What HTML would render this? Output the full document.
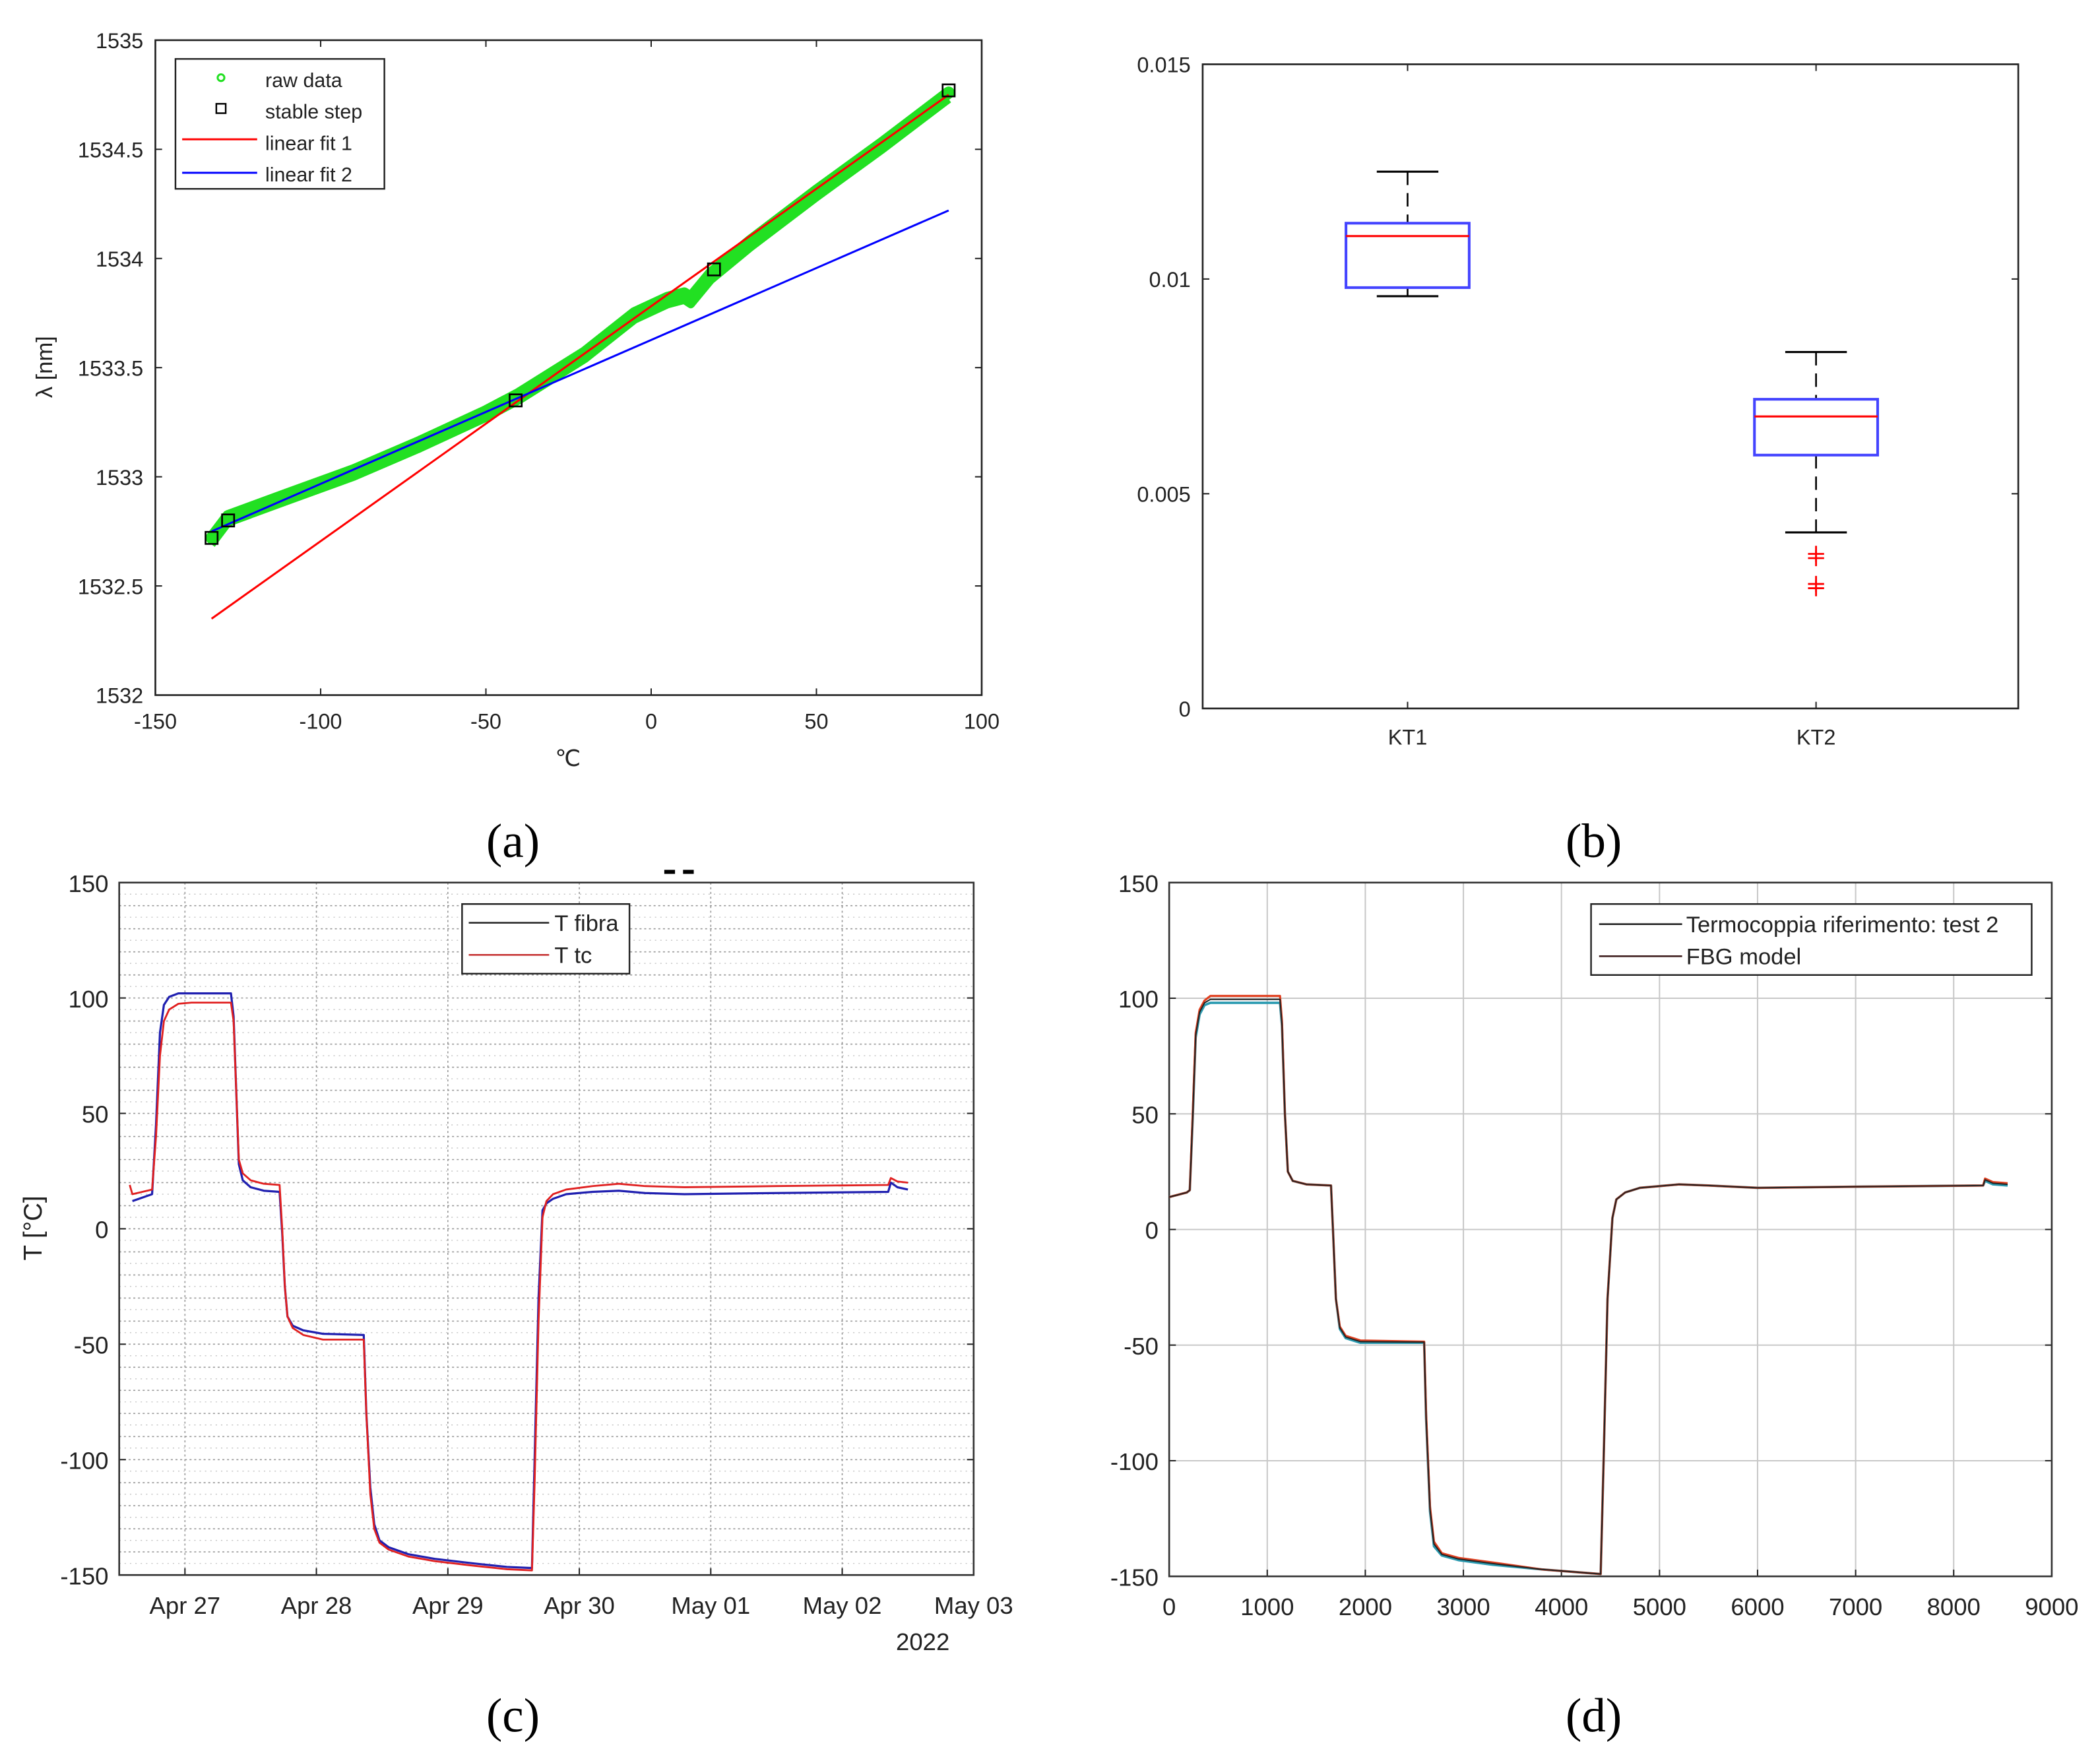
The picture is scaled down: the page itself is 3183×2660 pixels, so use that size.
<!DOCTYPE html>
<html><head><meta charset="utf-8">
<style>
html,body{margin:0;padding:0;background:#fff;}
svg{display:block;}
text{font-family:"Liberation Sans",sans-serif;fill:#222;}
.cap{font-family:"Liberation Serif",serif;font-size:36px;fill:#000;}
</style></head>
<body>
<svg id="fig" width="3183" height="2660" viewBox="0 0 1568 1310.4" xmlns="http://www.w3.org/2000/svg">
<rect x="0" y="0" width="1568" height="1310.4" fill="#fff"/>
<g id="pa"></g>
<g id="pb"></g>
<g id="pc"></g>
<g id="pd"></g>
<text class="cap" x="383" y="640" text-anchor="middle">(a)</text>
<text class="cap" x="1190" y="640" text-anchor="middle">(b)</text>
<text class="cap" x="383" y="1293" text-anchor="middle">(c)</text>
<text class="cap" x="1190" y="1293" text-anchor="middle">(d)</text>
</svg>
<script>
// ---------- Panel (a) data ----------
const aXTicks = [-150,-100,-50,0,50,100];
const aYTicks = [1532,1532.5,1533,1533.5,1534,1534.5,1535];
const aRawX = [-133,-128,-110,-90,-70,-50,-40,-20,-5,5,10,12,18,30,50,70,90];
const aRawY = [1532.72,1532.82,1532.92,1533.03,1533.16,1533.30,1533.38,1533.57,1533.75,1533.82,1533.84,1533.82,1533.93,1534.08,1534.31,1534.53,1534.76];
const aFit1X = [-133,90];
const aFit1Y = [1532.35,1534.75];
const aFit2X = [-133,90];
const aFit2Y = [1532.75,1534.22];
const aStepX = [-133,-128,-41,19,90];
const aStepY = [1532.72,1532.80,1533.35,1533.95,1534.77];

// ---------- Panel (b) data ----------
const bCats = ["KT1","KT2"];
const bWhiskHi = [0.0125,0.0083];
const bQ3 = [0.0113,0.0072];
const bMed = [0.0110,0.0068];
const bQ1 = [0.0098,0.0059];
const bWhiskLo = [0.0096,0.0041];
const bOutCat = [1,1,1,1];
const bOutVal = [0.0036,0.0035,0.0029,0.0028];
const bYTicks = [0,0.005,0.01,0.015];

// ---------- Panel (c) data (x = day of April) ----------
const cXTicks = [27,28,29,30,31,32,33];
const cXLabels = ["Apr 27","Apr 28","Apr 29","Apr 30","May 01","May 02","May 03"];
const cYTicks = [-150,-100,-50,0,50,100,150];
const cTcX = [26.58,26.6,26.75,26.78,26.81,26.84,26.88,26.95,27.05,27.35,27.37,27.39,27.41,27.44,27.5,27.6,27.72,27.74,27.76,27.78,27.82,27.9,28.05,28.36,28.38,28.41,28.44,28.48,28.55,28.7,28.9,29.2,29.45,29.64,29.66,29.69,29.72,29.75,29.8,29.9,30.1,30.3,30.5,30.8,31.5,32.35,32.37,32.42,32.5];
const cTcY = [19,15,17,40,75,90,95,97.5,98,98,90,60,30,24,21,19.5,19,0,-25,-38,-43,-46,-48,-48,-80,-115,-130,-136,-139,-142,-144,-146,-147.5,-148,-110,-40,5,12,15,17,18.5,19.5,18.5,18,18.5,19,22,20.5,20];
const cFbX = [26.6,26.75,26.78,26.81,26.84,26.88,26.95,27.35,27.37,27.39,27.41,27.44,27.5,27.6,27.72,27.74,27.76,27.78,27.82,27.9,28.05,28.36,28.38,28.41,28.44,28.48,28.55,28.7,28.9,29.2,29.45,29.64,29.66,29.69,29.72,29.75,29.8,29.9,30.1,30.3,30.5,30.8,31.5,32.35,32.37,32.42,32.5];
const cFbY = [12,15,45,85,97,100.5,102,102,92,60,28,21,18,16.5,16,-2,-25,-38,-42,-44,-45.5,-46,-80,-112,-128,-135,-138,-141,-143,-145,-146.5,-147,-100,-30,8,11,13,15,16,16.5,15.5,15,15.5,16,20,18,17];

// ---------- Panel (d) data (x = seconds) ----------
const dXTicks = [0,1000,2000,3000,4000,5000,6000,7000,8000,9000];
const dYTicks = [-150,-100,-50,0,50,100,150];
const dRefX = [0,180,210,240,270,310,360,420,1130,1150,1180,1210,1260,1400,1650,1670,1700,1740,1800,1950,2600,2620,2660,2700,2780,2950,3300,3800,4400,4430,4470,4520,4560,4650,4800,5200,5500,6000,7000,8300,8320,8400,8550];
const dRefY = [14,16,17,50,85,95,99,101,101,90,50,25,21,19.5,19,0,-30,-42,-46,-48,-48.5,-80,-120,-135,-140,-142,-144,-147,-149,-100,-30,5,13,16,18,19.5,19,18,18.5,19,22,20.5,20];
const dFbgX = [0,180,210,240,270,310,360,420,1130,1150,1180,1210,1260,1400,1650,1670,1700,1740,1800,1950,2600,2620,2660,2700,2780,2950,3300,3800,4400,4430,4470,4520,4560,4650,4800,5200,5500,6000,7000,8300,8320,8400,8550];
const dFbgY = [14,16,17,48,83,93,97,98,98,88,50,25,21,19.5,19,0,-30,-43,-47,-49,-49,-82,-122,-137,-141,-143,-145,-147,-149,-100,-30,5,13,16,18,19.5,19,18,18.5,19,21,19.5,19];

const NS="http://www.w3.org/2000/svg";
function mk(parent,tag,attrs){const e=document.createElementNS(NS,tag);for(const k in attrs)e.setAttribute(k,attrs[k]);parent.appendChild(e);return e;}
function lin(d0,d1,r0,r1){return v=>r0+(v-d0)*(r1-r0)/(d1-d0);}
function pathFrom(xs,ys,sx,sy){return xs.map((x,i)=>(i?'L':'M')+sx(x).toFixed(2)+' '+sy(ys[i]).toFixed(2)).join(' ');}

// ===== Panel a =====
(function(){
const g=document.getElementById('pa');
const L=116,R=733,T=30,B=519;
const sx=lin(-150,100,L,R), sy=lin(1532,1535,B,T);
let e=mk(g,'rect',{x:L,y:T,width:R-L,height:B-T,fill:'#fff',stroke:'#222','stroke-width':1.3});

aXTicks.forEach(v=>{const x=sx(v);mk(g,'line',{x1:x,y1:B,x2:x,y2:B-5,stroke:'#222'});mk(g,'line',{x1:x,y1:T,x2:x,y2:T+5,stroke:'#222'});
 const t=mk(g,'text',{x:x,y:B+25,'text-anchor':'middle','font-size':16});t.textContent=v;
 });
aYTicks.forEach(v=>{const y=sy(v);mk(g,'line',{x1:L,y1:y,x2:L+5,y2:y,stroke:'#222'});mk(g,'line',{x1:R,y1:y,x2:R-5,y2:y,stroke:'#222'});
 const t=mk(g,'text',{x:L-9,y:y+6,'text-anchor':'end','font-size':16});t.textContent=v;
 });
let t=mk(g,'text',{x:424,y:572,'text-anchor':'middle','font-size':17});t.textContent='℃';

t=mk(g,'text',{x:0,y:0,'text-anchor':'middle','font-size':17,transform:'translate(39,274) rotate(-90)'});t.textContent='λ [nm]';

e=mk(g,'path',{d:pathFrom(aRawX,aRawY,sx,sy),fill:'none',stroke:'#22e022','stroke-width':9,'stroke-linejoin':'round','stroke-linecap':'round'});

e=mk(g,'path',{d:pathFrom(aRawX,aRawY.map(v=>v-0.03),sx,sy),fill:'none',stroke:'#22e022','stroke-width':6,'stroke-linejoin':'round'});

e=mk(g,'path',{d:pathFrom(aFit1X,aFit1Y,sx,sy),fill:'none',stroke:'#ff0000','stroke-width':1.5});

e=mk(g,'path',{d:pathFrom(aFit2X,aFit2Y,sx,sy),fill:'none',stroke:'#0000ff','stroke-width':1.5});

aStepX.forEach((x,i)=>{e=mk(g,'rect',{x:sx(x)-4.5,y:sy(aStepY[i])-4.5,width:9,height:9,fill:'none',stroke:'#000','stroke-width':1.3});
 });
const lg=mk(g,'g',{});
mk(lg,'rect',{x:131,y:44,width:156,height:97,fill:'#fff',stroke:'#222','stroke-width':1.2});
mk(lg,'circle',{cx:165,cy:58,r:2.5,fill:'none',stroke:'#22e022','stroke-width':1.5});
mk(lg,'rect',{x:161.5,y:77.5,width:7,height:7,fill:'none',stroke:'#000','stroke-width':1.2});
mk(lg,'line',{x1:136,y1:104,x2:192,y2:104,stroke:'#ff0000','stroke-width':1.5});
mk(lg,'line',{x1:136,y1:129,x2:192,y2:129,stroke:'#0000ff','stroke-width':1.5});
['raw data','stable step','linear fit 1','linear fit 2'].forEach((s,i)=>{const tt=mk(lg,'text',{x:198,y:65+i*23.5,'font-size':15});tt.textContent=s;
 });
})();

// ===== Panel b =====
(function(){
const g=document.getElementById('pb');
const L=898,R=1507,T=48,B=529;
const sy=lin(0,0.015,B,T);
const cx=[1051,1356];
let e=mk(g,'rect',{x:L,y:T,width:R-L,height:B-T,fill:'#fff',stroke:'#222','stroke-width':1.3});

bYTicks.forEach(v=>{const y=sy(v);mk(g,'line',{x1:L,y1:y,x2:L+5,y2:y,stroke:'#222'});mk(g,'line',{x1:R,y1:y,x2:R-5,y2:y,stroke:'#222'});
 const t=mk(g,'text',{x:L-9,y:y+6,'text-anchor':'end','font-size':16});t.textContent=v;
 });
bCats.forEach((c,i)=>{const x=cx[i];
 mk(g,'line',{x1:x,y1:B,x2:x,y2:B-5,stroke:'#222'});mk(g,'line',{x1:x,y1:T,x2:x,y2:T+5,stroke:'#222'});
 const t=mk(g,'text',{x:x,y:B+27,'text-anchor':'middle','font-size':16});t.textContent=c;
 
 const bg=mk(g,'g',{});
 mk(bg,'line',{x1:x,y1:sy(bWhiskHi[i]),x2:x,y2:sy(bQ3[i]),stroke:'#000','stroke-width':1.3,'stroke-dasharray':'10 6'});
 mk(bg,'line',{x1:x,y1:sy(bQ1[i]),x2:x,y2:sy(bWhiskLo[i]),stroke:'#000','stroke-width':1.3,'stroke-dasharray':'10 6'});
 mk(bg,'line',{x1:x-23,y1:sy(bWhiskHi[i]),x2:x+23,y2:sy(bWhiskHi[i]),stroke:'#000','stroke-width':1.5});
 mk(bg,'line',{x1:x-23,y1:sy(bWhiskLo[i]),x2:x+23,y2:sy(bWhiskLo[i]),stroke:'#000','stroke-width':1.5});
 mk(bg,'rect',{x:x-46,y:sy(bQ3[i]),width:92,height:sy(bQ1[i])-sy(bQ3[i]),fill:'none',stroke:'#4444ff','stroke-width':2});
 mk(bg,'line',{x1:x-46,y1:sy(bMed[i]),x2:x+46,y2:sy(bMed[i]),stroke:'#ff0000','stroke-width':1.5});
});
bOutVal.forEach((v,i)=>{const x=cx[bOutCat[i]],y=sy(v);
 e=mk(g,'path',{d:`M${x-6} ${y}H${x+6}M${x} ${y-6}V${y+6}`,stroke:'#ff0000','stroke-width':1.4});
 });
})();

// ===== Panel c =====
(function(){
const g=document.getElementById('pc');
const L=89,R=727,T=659,B=1176;
const sx=lin(26.5,33,L,R), sy=lin(-150,150,B,T);
mk(g,'rect',{x:L,y:T,width:R-L,height:B-T,fill:'#fff'});
for(let v=-140;v<150;v+=10){const y=sy(v);mk(g,'line',{x1:L,y1:y,x2:R,y2:y,stroke:'#999','stroke-width':0.8,'stroke-dasharray':'1.5 2'});}
for(let v=-145;v<150;v+=10){const y=sy(v);mk(g,'line',{x1:L,y1:y,x2:R,y2:y,stroke:'#bbb','stroke-width':0.6,'stroke-dasharray':'1 3'});}
cXTicks.forEach((v,i)=>{const x=sx(v);mk(g,'line',{x1:x,y1:T,x2:x,y2:B,stroke:'#999','stroke-width':0.8,'stroke-dasharray':'1.5 2'});
 mk(g,'line',{x1:x,y1:B,x2:x,y2:B-5,stroke:'#222'});
 const t=mk(g,'text',{x:x,y:B+29,'text-anchor':'middle','font-size':18});t.textContent=cXLabels[i];
 });
let t=mk(g,'text',{x:689,y:1232,'text-anchor':'middle','font-size':18});t.textContent='2022';

cYTicks.forEach(v=>{const y=sy(v);mk(g,'line',{x1:L,y1:y,x2:L+5,y2:y,stroke:'#222'});mk(g,'line',{x1:R,y1:y,x2:R-5,y2:y,stroke:'#222'});
 const tt=mk(g,'text',{x:L-8,y:y+7,'text-anchor':'end','font-size':18});tt.textContent=v;
 });
t=mk(g,'text',{x:0,y:0,'text-anchor':'middle','font-size':19,transform:'translate(31,917) rotate(-90)'});t.textContent='T [°C]';

let e=mk(g,'rect',{x:L,y:T,width:R-L,height:B-T,fill:'none',stroke:'#333','stroke-width':1.3});

e=mk(g,'path',{d:'M496 651h8M510 651h8',stroke:'#000','stroke-width':3});

e=mk(g,'path',{d:pathFrom(cFbX,cFbY,sx,sy),fill:'none',stroke:'#2020b0','stroke-width':1.6,'stroke-linejoin':'round'});

e=mk(g,'path',{d:pathFrom(cTcX,cTcY,sx,sy),fill:'none',stroke:'#e02020','stroke-width':1.4,'stroke-linejoin':'round'});

const lg=mk(g,'g',{});
mk(lg,'rect',{x:345,y:675,width:125,height:52,fill:'#fff',stroke:'#222','stroke-width':1.2});
mk(lg,'line',{x1:350,y1:689,x2:410,y2:689,stroke:'#222','stroke-width':1.2});
mk(lg,'line',{x1:350,y1:713,x2:410,y2:713,stroke:'#c02020','stroke-width':1.2});
['T fibra','T tc'].forEach((s,i)=>{const tt=mk(lg,'text',{x:414,y:695+i*24,'font-size':17});tt.textContent=s;
 });
})();

// ===== Panel d =====
(function(){
const g=document.getElementById('pd');
const L=873,R=1532,T=659,B=1177;
const sx=lin(0,9000,L,R), sy=lin(-150,150,B,T);
mk(g,'rect',{x:L,y:T,width:R-L,height:B-T,fill:'#fff'});
dXTicks.forEach(v=>{const x=sx(v);mk(g,'line',{x1:x,y1:T,x2:x,y2:B,stroke:'#c8c8c8','stroke-width':1});
 mk(g,'line',{x1:x,y1:B,x2:x,y2:B-5,stroke:'#222'});
 const t=mk(g,'text',{x:x,y:B+29,'text-anchor':'middle','font-size':18});t.textContent=v;
 });
dYTicks.forEach(v=>{const y=sy(v);mk(g,'line',{x1:L,y1:y,x2:R,y2:y,stroke:'#c8c8c8','stroke-width':1});
 mk(g,'line',{x1:L,y1:y,x2:L+5,y2:y,stroke:'#222'});mk(g,'line',{x1:R,y1:y,x2:R-5,y2:y,stroke:'#222'});
 const t=mk(g,'text',{x:L-8,y:y+7,'text-anchor':'end','font-size':18});t.textContent=v;
 });
let e=mk(g,'rect',{x:L,y:T,width:R-L,height:B-T,fill:'none',stroke:'#333','stroke-width':1.3});

e=mk(g,'path',{d:pathFrom(dFbgX,dFbgY,sx,sy),fill:'none',stroke:'#2a9ab0','stroke-width':1.8,'stroke-linejoin':'round'});

e=mk(g,'path',{d:pathFrom(dRefX,dRefY,sx,sy),fill:'none',stroke:'#e04020','stroke-width':1.6,'stroke-linejoin':'round'});

e=mk(g,'path',{d:pathFrom(dRefX,dRefY.map((v,i)=>(v+dFbgY[i])/2),sx,sy),fill:'none',stroke:'#222','stroke-width':1,'stroke-linejoin':'round'});

const lg=mk(g,'g',{});
mk(lg,'rect',{x:1188,y:675,width:329,height:53,fill:'#fff',stroke:'#222','stroke-width':1.2});
mk(lg,'line',{x1:1194,y1:690,x2:1256,y2:690,stroke:'#222','stroke-width':1.3});
mk(lg,'line',{x1:1194,y1:714,x2:1256,y2:714,stroke:'#402020','stroke-width':1.3});
['Termocoppia riferimento: test 2','FBG model'].forEach((s,i)=>{const tt=mk(lg,'text',{x:1259,y:696+i*24,'font-size':17,fill:'#000'});tt.textContent=s;
 });
})();
</script>
</body></html>
